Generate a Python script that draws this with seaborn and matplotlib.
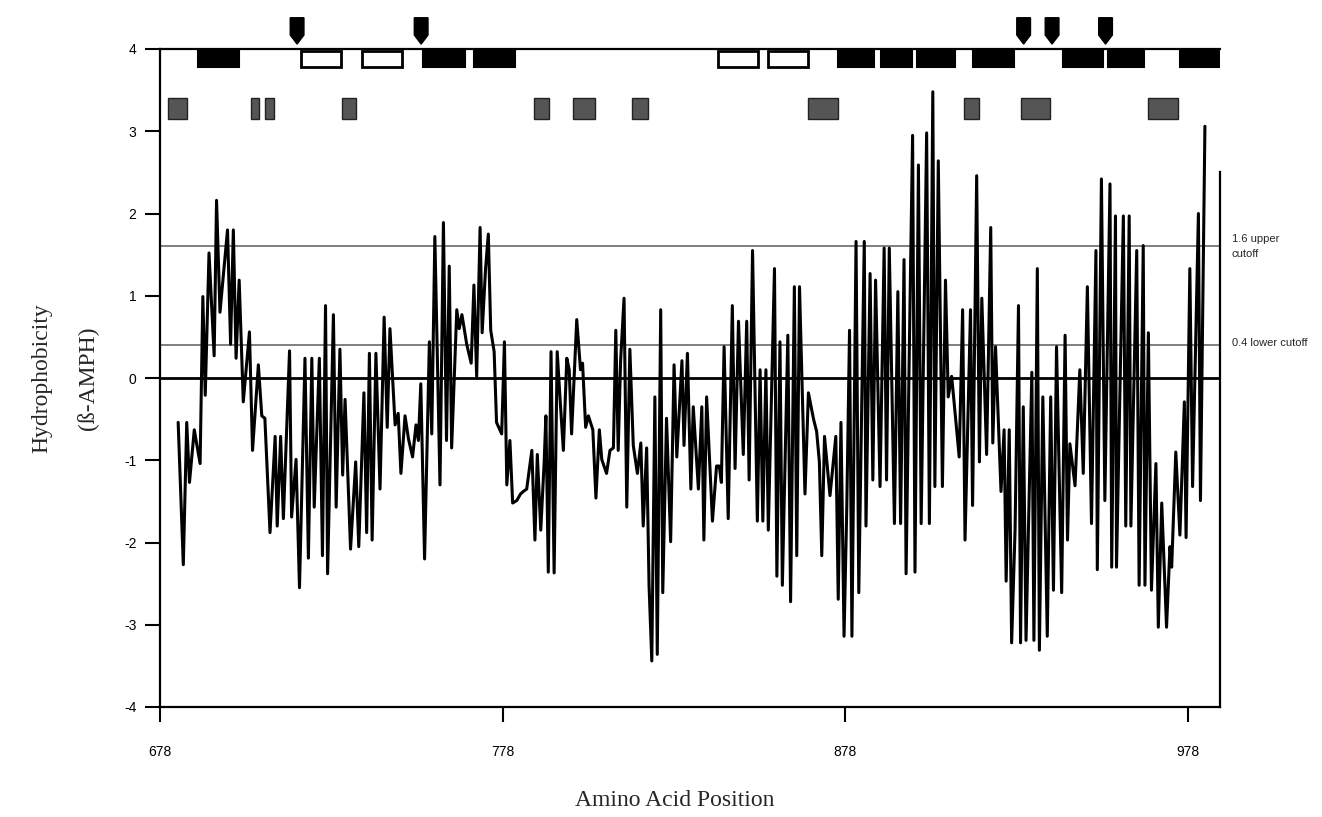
import matplotlib
matplotlib.use("Agg")
import matplotlib.pyplot as plt
from matplotlib.patches import Rectangle, Polygon
import seaborn as sns
import pandas as pd

# ------------------------ Données ------------------------
positions = [
    683.3, 684.8, 685.8, 686.6, 688.0, 689.7, 690.5, 691.2, 692.3, 693.8,
    694.5, 695.5, 697.7, 698.6, 699.4, 700.2, 701.1, 702.3, 704.1, 705.0,
    706.7, 707.7, 708.6, 710.1, 711.6, 712.2, 713.2, 714.0, 715.8, 716.4,
    717.7, 718.7, 720.3, 721.3, 722.3, 723.0, 724.5, 725.4, 726.3, 726.9,
    728.6, 729.4, 730.5, 731.3, 732.0, 733.6, 735.1, 736.0, 737.5, 738.3,
    739.1, 739.9, 741.0, 742.2, 743.4, 744.3, 745.1, 746.6, 747.5, 748.3,
    749.5, 750.5, 751.7, 752.7, 753.4, 754.1, 755.2, 756.6, 757.3, 758.2,
    759.7, 760.7, 761.6, 762.4, 763.1, 764.6, 765.3, 766.1, 767.5, 768.8,
    769.6, 770.4, 771.4, 772.0, 773.0, 773.8, 774.5, 775.5, 776.2, 777.7,
    778.5, 779.2, 780.1, 780.9, 782.1, 783.2, 784.0, 785.0, 786.5, 787.4,
    788.1, 789.1, 790.1, 790.6, 791.3, 792.1, 793.0, 793.9, 794.7, 795.7,
    796.7, 797.4, 798.1, 799.6, 800.7, 801.3, 802.2, 803.0, 804.3, 805.2,
    806.2, 806.9, 808.3, 809.3, 810.3, 811.0, 811.7, 812.4, 813.4, 814.2,
    815.1, 816.1, 817.3, 818.3, 819.0, 820.0, 820.7, 821.5, 822.4, 823.1,
    824.1, 824.7, 825.8, 827.0, 828.0, 828.8, 830.3, 830.9, 831.9, 832.9,
    833.6, 835.1, 836.1, 836.7, 837.5, 839.2, 840.4, 841.2, 841.8, 842.6,
    843.8, 845.0, 845.8, 846.8, 848.2, 849.2, 849.9, 850.9, 852.3, 853.1,
    853.9, 854.8, 855.5, 857.3, 858.0, 858.9, 859.6, 861.2, 862.0, 863.1,
    863.8, 864.6, 866.2, 867.2, 868.7, 869.6, 870.4, 871.1, 871.9, 873.5,
    875.2, 875.9, 876.7, 877.6, 878.4, 879.2, 879.9, 881.1, 881.9, 883.5,
    884.0, 885.2, 886.0, 886.8, 888.1, 889.3, 890.0, 890.8, 892.3, 893.3,
    894.1, 895.1, 895.7, 896.7, 897.6, 898.3, 899.3, 900.1, 901.7, 902.5,
    903.5, 904.1, 905.1, 906.3, 907.2, 908.0, 909.0, 911.2, 912.2, 912.9,
    914.5, 915.1, 916.3, 917.1, 917.8, 919.2, 920.4, 921.0, 921.8, 923.4,
    924.3, 924.9, 925.8, 926.5, 927.5, 928.5, 929.1, 929.9, 930.7, 932.4,
    933.0, 934.0, 934.6, 935.6, 936.9, 937.9, 938.7, 939.6, 941.1, 942.1,
    942.8, 943.5, 945.0, 946.4, 947.4, 948.6, 949.8, 951.1, 951.5, 952.7,
    953.7, 955.2, 955.7, 956.8, 957.1, 959.1, 959.8, 960.8, 961.3, 963.0,
    963.7, 964.9, 965.4, 966.4, 967.3, 968.6, 969.3, 970.3, 971.7, 972.7,
    973.2, 974.4, 975.6, 976.9, 977.4, 978.5, 979.3, 981.0, 981.6, 982.9,
]
hydrophobicity = [
    -0.54, -2.27, -0.54, -1.27, -0.63, -1.04, 0.99, -0.21, 1.52, 0.27,
    2.16, 0.80, 1.80, 0.41, 1.80, 0.24, 1.19, -0.29, 0.56, -0.88,
    0.16, -0.46, -0.49, -1.88, -0.71, -1.80, -0.71, -1.71, 0.33, -1.69,
    -0.99, -2.55, 0.24, -2.19, 0.24, -1.57, 0.24, -2.16, 0.88, -2.38,
    0.77, -1.57, 0.35, -1.18, -0.26, -2.08, -1.02, -2.05, -0.18, -1.88,
    0.30, -1.97, 0.30, -1.35, 0.74, -0.60, 0.60, -0.57, -0.43, -1.16,
    -0.46, -0.74, -0.96, -0.57, -0.76, -0.07, -2.20, 0.44, -0.68, 1.72,
    -1.30, 1.89, -0.76, 1.36, -0.85, 0.83, 0.60, 0.77, 0.41, 0.18,
    1.13, 0.02, 1.83, 0.55, 1.33, 1.75, 0.58, 0.32, -0.54, -0.68,
    0.44, -1.30, -0.76, -1.52, -1.49, -1.41, -1.38, -1.35, -0.88, -1.97,
    -0.93, -1.85, -1.02, -0.46, -2.36, 0.32, -2.37, 0.32, -0.23, -0.88,
    0.24, 0.10, -0.68, 0.71, 0.10, 0.18, -0.60, -0.46, -0.63, -1.46,
    -0.63, -0.99, -1.16, -0.88, -0.85, 0.58, -0.88, 0.21, 0.97, -1.57,
    0.35, -0.82, -1.16, -0.79, -1.80, -0.85, -2.52, -3.44, -0.23, -3.36,
    0.83, -2.61, -0.49, -1.99, 0.16, -0.96, 0.21, -0.82, 0.30, -1.35,
    -0.35, -1.35, -0.35, -1.97, -0.23, -1.74, -1.07, -1.07, -1.27, 0.38,
    -1.71, 0.88, -1.10, 0.69, -0.93, 0.69, -1.24, 1.55, -1.74, 0.10,
    -1.74, 0.10, -1.85, 1.33, -2.41, 0.44, -2.52, 0.52, -2.72, 1.11,
    -2.16, 1.11, -1.41, -0.18, -0.50, -0.65, -1.02, -2.16, -0.71, -1.43,
    -0.71, -2.69, -0.54, -3.14, -1.57, 0.58, -3.14, 1.66, -2.61, 1.66,
    -1.80, 1.27, -1.24, 1.19, -1.32, 1.58, -1.24, 1.58, -1.77, 1.05,
    -1.77, 1.44, -2.38, 0.49, 2.95, -2.36, 2.59, -1.77, 2.98, -1.77,
    3.48, -1.32, 2.64, -1.32, 1.19, -0.23, 0.02, -0.96, 0.83, -1.97,
    0.83, -1.55, 2.46, -1.02, 0.97, -0.93, 1.83, -0.79, 0.38, -1.38,
    -0.63, -2.47, -0.63, -3.22, -1.85, 0.88, -3.22, -0.35, -3.19, 0.07,
    -3.19, 1.33, -3.31, -0.23, -3.14, -0.23, -2.58, 0.38, -2.61, 0.52,
    -1.97, -0.80, -1.31, 0.10, -1.16, 1.11, -1.77, 1.55, -2.33, 2.42,
    -1.49, 2.36, -2.30, 1.97, -2.30, 1.97, -1.80, 1.97, -1.80, 1.55,
    -2.52, 1.61, -2.52, 0.55, -2.58, -1.04, -3.03, -1.52, -3.03, -2.05,
    -2.30, -0.90, -1.91, -0.29, -1.94, 1.33, -1.32, 2.00, -1.49, 3.06,
]

# segments (début, fin) des barres du haut
filled_segments = [(689.0, 701.1), (754.8, 767.0), (769.7, 781.6), (875.9, 886.4),
                   (888.5, 897.5), (898.9, 910.0), (915.1, 927.2), (941.6, 953.3),
                   (954.5, 965.1), (975.6, 987.3)]
open_segments = [(719.1, 730.7), (737.0, 748.6), (840.7, 852.6), (855.3, 867.2)]
grey_segments = [(680.4, 686.0), (704.5, 707.0), (708.6, 711.3), (731.0, 735.1),
                 (787.1, 791.6), (798.6, 804.9), (815.8, 820.3), (867.2, 875.8),
                 (912.6, 917.1), (929.1, 937.7), (966.4, 975.1)]
arrow_positions = [718.0, 754.2, 930.0, 938.3, 953.9]

upper_cutoff = 1.6
lower_cutoff = 0.4
x_ticks = [678, 778, 878, 978]
y_ticks = [-4, -3, -2, -1, 0, 1, 2, 3, 4]

df = pd.DataFrame({"position": positions, "hydrophobicity": hydrophobicity})

# ------------------------ Figure ------------------------
sns.set_theme(style="ticks")
plt.rcParams["font.family"] = ["Liberation Sans", "DejaVu Sans"]
plt.rcParams["axes.unicode_minus"] = False

fig = plt.figure(figsize=(13.22, 8.17), dpi=100)
ax = fig.add_axes([160 / 1322, 110 / 817, 1060 / 1322, 658 / 817])

ax.axhline(upper_cutoff, color="#6a6a6a", lw=1.2, zorder=1)
ax.axhline(lower_cutoff, color="#6a6a6a", lw=1.2, zorder=1)
ax.axhline(0, color="black", lw=2, zorder=1)

sns.lineplot(data=df, x="position", y="hydrophobicity", color="black", lw=2.2,
             estimator=None, sort=False, ax=ax, zorder=2)

for s, e in filled_segments:
    ax.add_patch(Rectangle((s, 3.78), e - s, 0.22, facecolor="black",
                           edgecolor="black", lw=1.5, zorder=3))
for s, e in open_segments:
    ax.add_patch(Rectangle((s, 3.78), e - s, 0.2, facecolor="white",
                           edgecolor="black", lw=2, zorder=3))
for s, e in grey_segments:
    ax.add_patch(Rectangle((s, 3.15), e - s, 0.25, facecolor="#555555",
                           edgecolor="#222222", lw=1, zorder=3))
for x in arrow_positions:
    pts = [(x - 2.0, 4.38), (x + 2.0, 4.38), (x + 2.0, 4.17), (x, 4.06), (x - 2.0, 4.17)]
    ax.add_patch(Polygon(pts, closed=True, facecolor="black", edgecolor="black",
                         clip_on=False, zorder=4))

ax.set_xlim(678, 987.3)
ax.set_ylim(-4, 4)
ax.set_xticks(x_ticks)
ax.set_yticks(y_ticks)
ax.set_xlabel("")
ax.set_ylabel("")

for side in ["left", "bottom", "top", "right"]:
    ax.spines[side].set_visible(True)
    ax.spines[side].set_color("black")
    ax.spines[side].set_linewidth(1.6)
ax.spines["right"].set_bounds(-4, 2.5)

ax.tick_params(axis="both", direction="out", length=11, width=1.5,
               labelsize=10, color="black", labelcolor="black")
ax.tick_params(axis="x", pad=16)
ax.tick_params(axis="y", pad=6)

ax.text(990.8, upper_cutoff, "1.6 upper\ncutoff", fontsize=8, va="center", ha="left",
        linespacing=1.6)
ax.text(990.8, lower_cutoff + 0.03, "0.4 lower cutoff", fontsize=8, va="center", ha="left")

serif = ["Liberation Serif", "DejaVu Serif"]
fig.text(42 / 1322, 1 - 378 / 817, "Hydrophobicity", rotation=90, family=serif,
         fontsize=17, ha="center", va="center")
fig.text(88 / 1322, 1 - 378 / 817, "(ß-AMPH)", rotation=90, family=serif,
         fontsize=17, ha="center", va="center")
fig.text(675 / 1322, 1 - 800 / 817, "Amino Acid Position", family=serif,
         fontsize=17, ha="center", va="center")

fig.savefig("out.png", dpi=100)
